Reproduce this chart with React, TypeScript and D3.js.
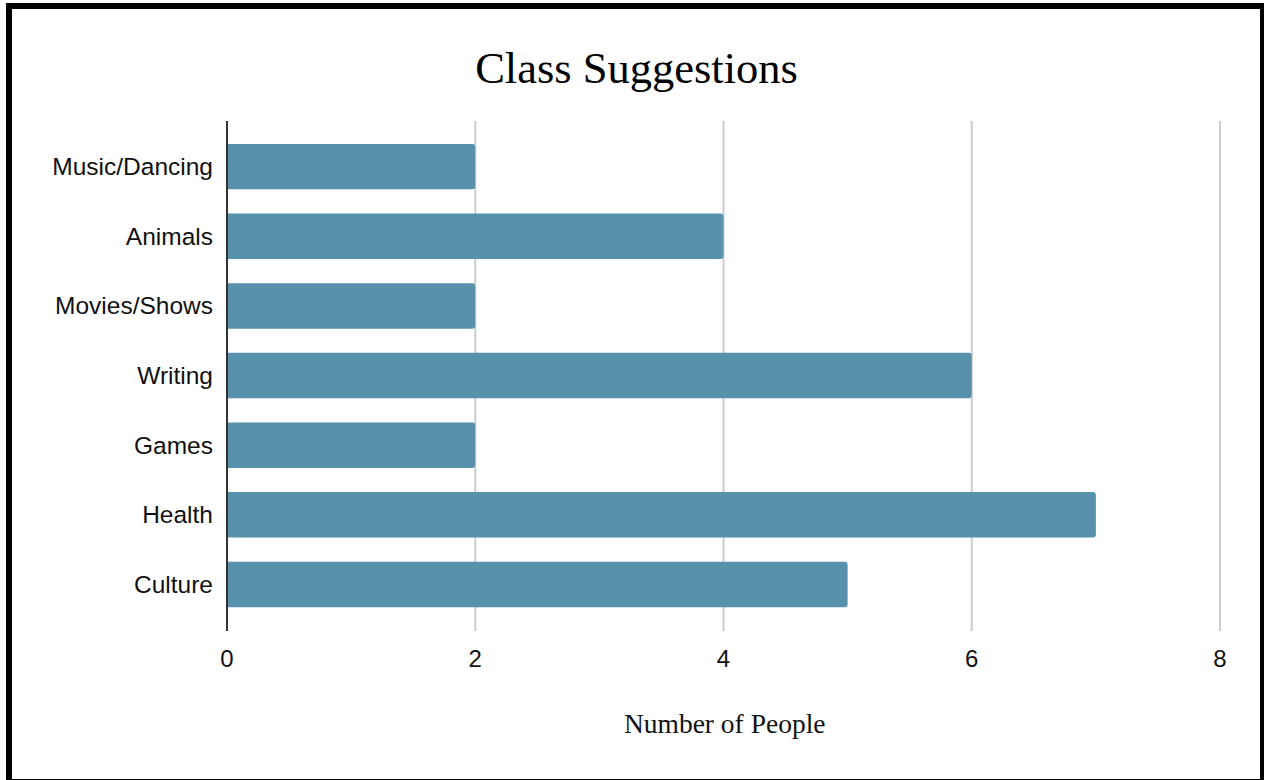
import React from "react";
import * as d3 from "d3";

const categories = ["Music/Dancing", "Animals", "Movies/Shows", "Writing", "Games", "Health", "Culture"];
const values = [2, 4, 2, 6, 2, 7, 5];
const xTicks = [0, 2, 4, 6, 8];
const title = "Class Suggestions";
const xTitle = "Number of People";

const W = 1264;
const H = 780;

function barPath(x0: number, x1: number, y0: number, h: number, r: number) {
  const p = d3.path();
  p.moveTo(x0, y0);
  p.lineTo(x1 - r, y0);
  p.arcTo(x1, y0, x1, y0 + r, r);
  p.lineTo(x1, y0 + h - r);
  p.arcTo(x1, y0 + h, x1 - r, y0 + h, r);
  p.lineTo(x0, y0 + h);
  p.closePath();
  return p.toString();
}

export default function App() {
  const x = d3.scaleLinear().domain([0, 8]).range([227, 1220]);
  const y = d3.scaleBand<string>().domain(categories).range([131.8, 619.3]).paddingInner(0.347).paddingOuter(0.1735);
  const axisTop = 121;
  const axisBottom = 631;
  const barColor = "#5791ab";
  const sans = "'Liberation Sans', Arial, sans-serif";
  const serif = "'Liberation Serif', 'DejaVu Serif', serif";

  return (
    <svg width={W} height={H} style={{ position: "absolute", left: 0, top: 0, display: "block" }}>
      <rect x={0} y={0} width={W} height={H} fill="#fff" />
      <rect x={9} y={6} width={1254} height={776} fill="none" stroke="#000" strokeWidth={6} />
      <text x={636.5} y={83} textAnchor="middle" fontFamily={serif} fontSize={44.5} fill="#000">{title}</text>
      {xTicks.map((t) => (
        <g key={t}>
          {t !== 0 && (
            <line x1={x(t)} x2={x(t)} y1={axisTop} y2={axisBottom} stroke="#cccccc" strokeWidth={2} />
          )}
          <text x={x(t)} y={667} textAnchor="middle" fontFamily={sans} fontSize={24} fill="#111">{t}</text>
        </g>
      ))}
      {categories.map((c, i) => (
        <g key={c}>
          <path d={barPath(x(0), x(values[i]), y(c)!, y.bandwidth(), 3)} fill={barColor} />
          <text
            x={213}
            y={y(c)! + y.bandwidth() / 2}
            dy="0.35em"
            textAnchor="end"
            fontFamily={sans}
            fontSize={24.5}
            fill="#111"
          >
            {c}
          </text>
        </g>
      ))}
      <line x1={x(0)} x2={x(0)} y1={axisTop} y2={axisBottom} stroke="#333" strokeWidth={2} />
      <text x={724.7} y={733} textAnchor="middle" fontFamily={serif} fontSize={27.5} fill="#111">{xTitle}</text>
    </svg>
  );
}
